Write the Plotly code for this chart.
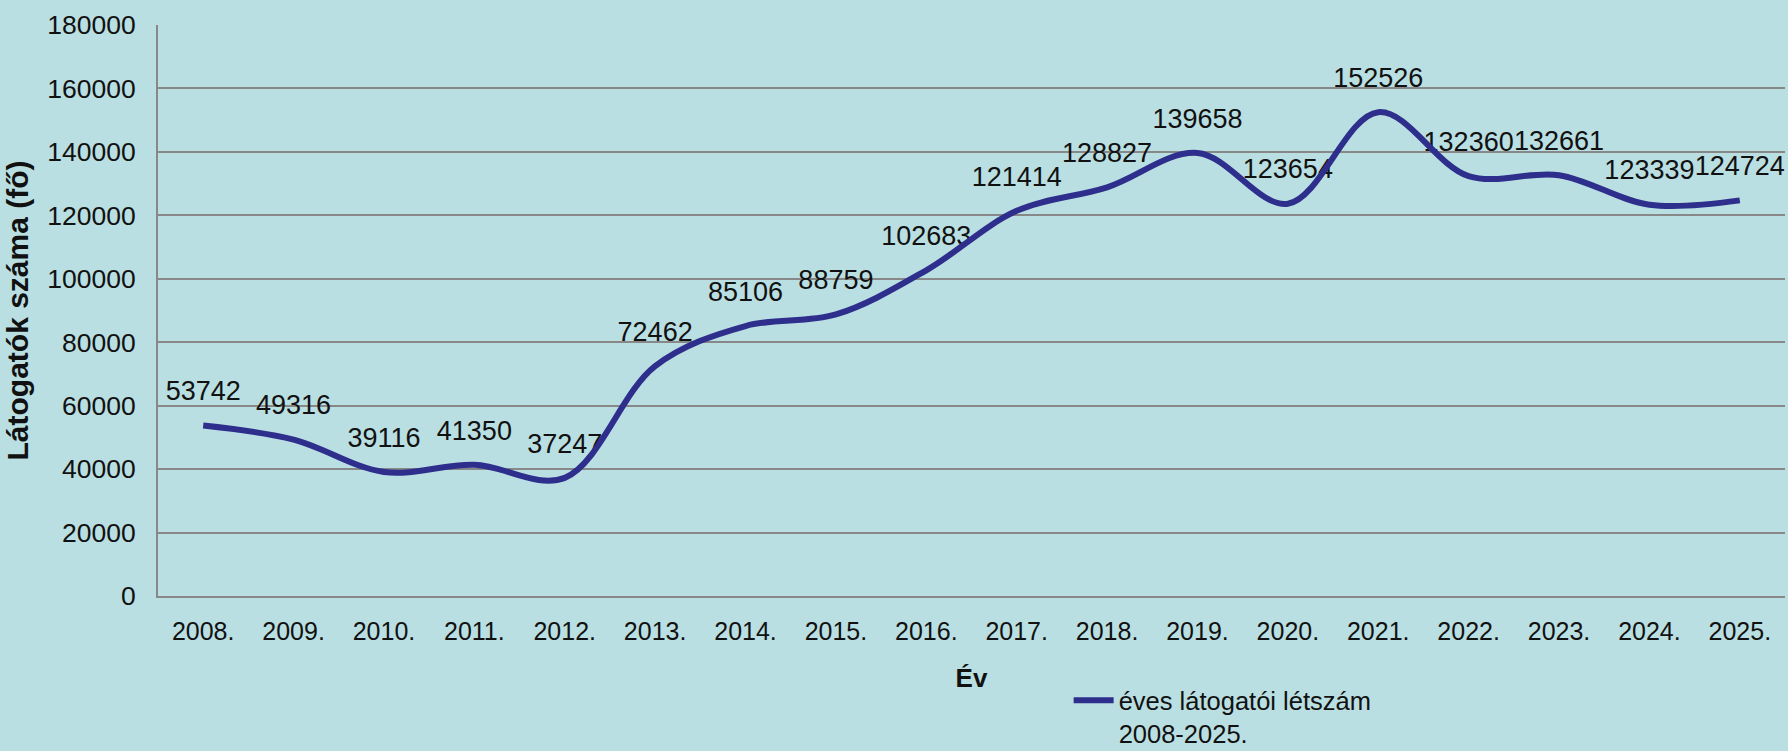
import plotly.graph_objects as go

years = ["2008.", "2009.", "2010.", "2011.", "2012.", "2013.", "2014.", "2015.", "2016.",
         "2017.", "2018.", "2019.", "2020.", "2021.", "2022.", "2023.", "2024.", "2025."]
visitors = [53742, 49316, 39116, 41350, 37247, 72462, 85106, 88759, 102683,
            121414, 128827, 139658, 123654, 152526, 132360, 132661, 123339, 124724]
y_ticks = [0, 20000, 40000, 60000, 80000, 100000, 120000, 140000, 160000, 180000]
series_name = "éves látogatói létszám<br>2008-2025."

BG = "#BADFE2"
LINE = "#2E2E8C"
GRID = "#888888"
FONT = "Liberation Sans, Arial, sans-serif"

fig = go.Figure()
# data labels (drawn first so the line sits on top, as in the reference)
fig.add_trace(go.Scatter(
    x=years, y=visitors, mode="markers+text", text=[str(v) for v in visitors],
    textposition="top center", textfont=dict(family=FONT, size=27, color="#111111"),
    marker=dict(size=28, color="rgba(0,0,0,0)"), showlegend=False,
    hoverinfo="skip", cliponaxis=False,
))
fig.add_trace(go.Scatter(
    x=years, y=visitors, mode="lines", name=series_name,
    line=dict(color=LINE, width=6, shape="spline", smoothing=1.0),
))

fig.update_layout(
    width=1788, height=751,
    paper_bgcolor=BG, plot_bgcolor=BG,
    margin=dict(l=158, r=3, t=25, b=155, autoexpand=False),
    font=dict(family=FONT, size=26, color="#111111"),
    showlegend=True,
    legend=dict(x=0.5597, y=-0.142, xanchor="left", yanchor="top", valign="top",
                bgcolor="rgba(0,0,0,0)", font=dict(size=25.5, family=FONT, color="#111111"),
                itemwidth=40),
    xaxis=dict(
        type="category", range=[-0.5, 17.5], showgrid=False,
        showline=True, linecolor=GRID, linewidth=2, ticks="",
        ticklabelstandoff=12, tickfont=dict(size=25),
        title=dict(text="<b>Év</b>", font=dict(size=26), standoff=25),
    ),
    yaxis=dict(
        range=[0, 180000], tickvals=y_ticks, ticktext=[str(t) for t in y_ticks],
        showgrid=True, gridcolor=GRID, gridwidth=2,
        showline=True, linecolor=GRID, linewidth=2, ticks="", zeroline=False,
        ticklabelstandoff=15, tickfont=dict(size=26.5),
        title=dict(text="<b>Látogatók száma (fő)</b>", font=dict(size=30), standoff=10),
    ),
)

fig.write_html("out.html", config={"displayModeBar": False},
               post_script="document.body.style.margin='0';document.body.style.overflow='hidden';")
